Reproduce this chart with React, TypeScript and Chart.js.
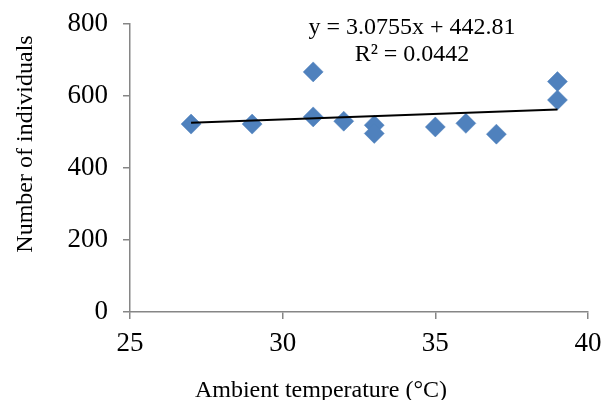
import React, { useEffect, useRef } from "react";
import { Chart, registerables } from "chart.js";

Chart.register(...registerables);

const temperatures = [27, 29, 31, 31, 32, 33, 33, 35, 36, 37, 39, 39];
const individuals = [522, 522, 667, 542, 530, 519, 496, 514, 524, 494, 640, 589];
const xTicks = [25, 30, 35, 40];
const yTicks = [0, 200, 400, 600, 800];
const slope = 3.0755;
const intercept = 442.81;
const rSquared = "0.0442";
const xTitle = "Ambient temperature (°C)";
const yTitle = "Number of individuals";

const FONT = "'Liberation Serif', 'Times New Roman', serif";

const textPlugin = {
  id: "customText",
  afterDraw(chart: any) {
    const ctx = chart.ctx;
    ctx.save();
    ctx.fillStyle = "#000";
    ctx.font = `24px ${FONT}`;
    ctx.textAlign = "center";
    ctx.textBaseline = "alphabetic";
    ctx.fillText(`y = ${slope}x + ${intercept}`, 412, 34);
    ctx.fillText(`R² = ${rSquared}`, 412, 61);
    ctx.fillText(xTitle, 321, 397);
    ctx.translate(32, 144);
    ctx.rotate(-Math.PI / 2);
    ctx.fillText(yTitle, 0, 0);
    ctx.restore();
  },
};

export default function App() {
  const ref = useRef<HTMLCanvasElement | null>(null);
  useEffect(() => {
    document.body.style.margin = "0";
    const xMin = Math.min(...temperatures);
    const xMax = Math.max(...temperatures);
    const chart = new Chart(ref.current as HTMLCanvasElement, {
      type: "scatter",
      data: {
        datasets: [
          {
            type: "line",
            data: [
              { x: xMin, y: slope * xMin + intercept },
              { x: xMax, y: slope * xMax + intercept },
            ],
            borderColor: "#000",
            borderWidth: 2,
            pointRadius: 0,
            order: 0,
          } as any,
          {
            data: temperatures.map((t, i) => ({ x: t, y: individuals[i] })),
            pointStyle: "rectRot",
            pointRadius: 10,
            backgroundColor: "#4F81BD",
            borderColor: "#4F81BD",
            borderWidth: 0.5,
            order: 1,
          },
        ],
      },
      options: {
        animation: false,
        responsive: true,
        maintainAspectRatio: false,
        layout: { padding: { top: 24, right: 15, left: 0, bottom: 0 } },
        plugins: { legend: { display: false }, tooltip: { enabled: false } },
        scales: {
          x: {
            type: "linear",
            min: xTicks[0],
            max: xTicks[xTicks.length - 1],
            afterBuildTicks: (s: any) => {
              s.ticks = xTicks.map((v) => ({ value: v }));
            },
            afterFit: (s: any) => {
              s.height = 88;
              s.paddingLeft = 0;
              s.paddingRight = 0;
              s.paddingTop = 0;
              s.paddingBottom = 0;
            },
            ticks: {
              font: { family: FONT, size: 27 },
              color: "#000",
              padding: 9,
            },
            grid: {
              drawOnChartArea: false,
              drawTicks: true,
              tickLength: 7,
              color: "#868686",
              lineWidth: 1.5,
            },
            border: { display: true, color: "#868686", width: 1.5 },
          },
          y: {
            min: yTicks[0],
            max: yTicks[yTicks.length - 1],
            afterBuildTicks: (s: any) => {
              s.ticks = yTicks.map((v) => ({ value: v }));
            },
            afterFit: (s: any) => {
              s.width = 130;
              s.paddingLeft = 0;
              s.paddingRight = 0;
              s.paddingTop = 0;
              s.paddingBottom = 0;
            },
            ticks: {
              font: { family: FONT, size: 27 },
              color: "#000",
              padding: 15,
            },
            grid: {
              drawOnChartArea: false,
              drawTicks: true,
              tickLength: 7,
              color: "#868686",
              lineWidth: 1.5,
            },
            border: { display: true, color: "#868686", width: 1.5 },
          },
        },
      },
      plugins: [textPlugin],
    });
    return () => chart.destroy();
  }, []);
  return (
    <div style={{ position: "fixed", left: 0, top: 0, width: 603, height: 400, background: "#fff" }}>
      <canvas ref={ref} />
    </div>
  );
}
